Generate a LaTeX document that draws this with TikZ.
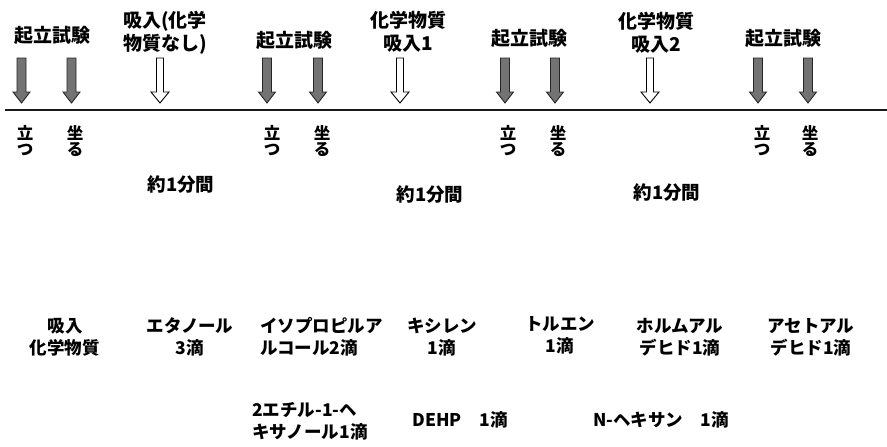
\documentclass[tikz,border=0pt]{standalone}
\usepackage{fontspec}
\newfontfamily\jp{Noto Sans CJK JP}
\tikzset{
  lbl/.style={font=\jp\bfseries\fontsize{17.5}{22}\selectfont, align=center, inner sep=0pt},
  tlbl/.style={lbl, font=\jp\bfseries\fontsize{19}{23}\selectfont},
  mlbl/.style={lbl, font=\jp\bfseries\fontsize{18.5}{22}\selectfont},
  vlbl/.style={font=\jp\bfseries\fontsize{16.5}{16}\selectfont, align=center, inner sep=0pt},
  garr/.style={fill=black!55, draw=black!85, line width=0.9pt},
  harr/.style={fill=white, draw=black, line width=0.9pt},
  darrow/.pic={\path[pic actions] (-4.5,58) -- (4.5,58) -- (4.5,92) -- (8.5,92) -- (0,103) -- (-8.5,92) -- (-4.5,92) -- cycle;},
  hdarrow/.pic={\path[pic actions] (-3.5,58) -- (3.5,58) -- (3.5,92) -- (9,92) -- (0,103) -- (-9,92) -- (-3.5,92) -- cycle;},
}
\begin{document}
\begin{tikzpicture}[x=1pt,y=-1pt]
\useasboundingbox (0,0) rectangle (887,447);
% timeline
\coordinate (tl0) at (5,110);
\coordinate (tl1) at (887,110);
\draw[line width=1.6pt, black!90] (tl0) -- (tl1);
% arrows
\foreach \x in {21.5,71.5,267,318,505,555,758,808}{\pic[garr] at (\x,0) {darrow};}
\foreach \x in {160,400,650}{\pic[harr] at (\x,0) {hdarrow};}
% top labels
\node[tlbl] (t1) at (53,35) {起立試験};
\node[tlbl] (t2) at (165,33) {吸入(化学\\物質なし)};
\node[tlbl] (t3) at (294,40) {起立試験};
\node[tlbl] (t4) at (408,32) {化学物質\\吸入1};
\node[tlbl] (t5) at (529,38) {起立試験};
\node[tlbl] (t6) at (656,33) {化学物質\\吸入2};
\node[tlbl] (t7) at (783,38) {起立試験};
% stand / sit
\node[vlbl] (s1) at (25,141) {立\\つ};
\node[vlbl] (d1) at (75,141) {坐\\る};
\node[vlbl] (s2) at (272,141) {立\\つ};
\node[vlbl] (d2) at (322,141) {坐\\る};
\node[vlbl] (s3) at (508,141) {立\\つ};
\node[vlbl] (d3) at (558,141) {坐\\る};
\node[vlbl] (s4) at (762,141) {立\\つ};
\node[vlbl] (d4) at (810,141) {坐\\る};
% durations
\node[mlbl] (m1) at (181,185) {約1分間};
\node[mlbl] (m2) at (430,195) {約1分間};
\node[mlbl] (m3) at (667,193) {約1分間};
% chemicals row 1
\node[lbl] (c0) at (65,337) {吸入\\化学物質};
\node[lbl] (c1) at (190,337) {エタノール\\3滴};
\node[lbl, align=left, anchor=west] (c2) at (260,337) {イソプロピルア\\ルコール2滴};
\node[lbl] (c3) at (442,337) {キシレン\\1滴};
\node[lbl] (c4) at (560,335) {トルエン\\1滴};
\node[lbl] (c5) at (680,337) {ホルムアル\\デヒド1滴};
\node[lbl] (c6) at (811,337) {アセトアル\\デヒド1滴};
% chemicals row 2
\node[lbl, align=left, anchor=west] (e1) at (252,421) {2エチル-1-ヘ\\キサノール1滴};
\node[lbl] (e2) at (460,420) {DEHP\quad 1滴};
\node[lbl] (e3) at (661,420) {N-ヘキサン\quad 1滴};
\end{tikzpicture}
\end{document}
